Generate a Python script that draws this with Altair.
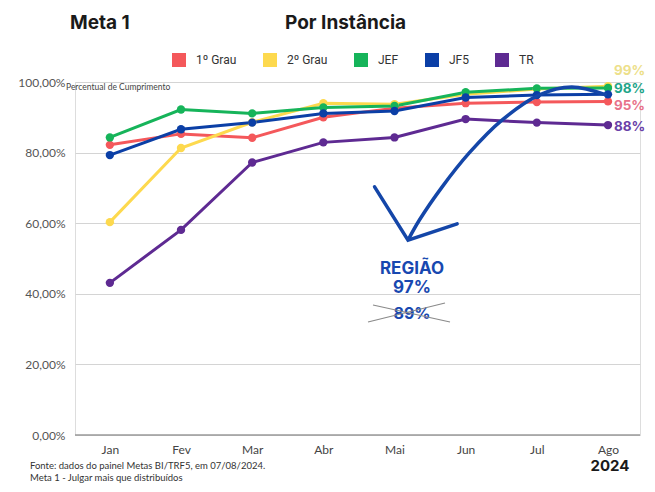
import json
import altair as alt
import pandas as pd

# ---------------- data ----------------
months = ["Jan", "Fev", "Mar", "Abr", "Mai", "Jun", "Jul", "Ago"]
series_names = ["1º Grau", "2º Grau", "JEF", "JF5", "TR"]
grau1 = [82.2, 85.3, 84.2, 90.0, 92.6, 94.0, 94.3, 94.5]
grau2 = [60.3, 81.3, 88.6, 94.0, 93.7, 96.5, 98.0, 98.8]
jef = [84.3, 92.2, 91.1, 92.8, 93.2, 97.1, 98.2, 98.3]
jf5 = [79.3, 86.6, 88.5, 91.1, 91.8, 95.6, 96.3, 96.5]
tr = [43.1, 58.1, 77.2, 82.9, 84.3, 89.5, 88.5, 87.8]
series_colors = ["#F4585B", "#FDD94E", "#16B45A", "#0B3FA6", "#5E2A92"]

end_labels = ["99%", "98%", "95%", "88%"]
end_values = [98.8, 98.3, 94.5, 87.8]
end_colors = ["#EDE08A", "#1FA58A", "#E8728A", "#6A3FA8"]
end_dy = [-15, 1, 5, 2]

# hand-drawn arrow (month index, percent)
arc_x = [4.19, 4.35, 4.67, 5.05, 5.51, 6.03, 6.49, 6.98]
arc_y = [55.2, 60.9, 70.3, 79.9, 89.2, 96.3, 98.6, 96.3]
head_x = [3.72, 4.19, 4.88]
head_y = [70.3, 55.2, 59.8]

y_ticks = [0, 20, 40, 60, 80, 100]

# ---------------- tables ----------------
rows = []
for name, vals in zip(series_names, [grau1, grau2, jef, jf5, tr]):
    for i, v in enumerate(vals):
        rows.append({"idx": i, "serie": name, "value": v})
df = pd.DataFrame(rows)

arc_df = pd.DataFrame({"x": arc_x, "y": arc_y, "o": list(range(len(arc_x)))})
head_df = pd.DataFrame({"x": head_x, "y": head_y, "o": list(range(len(head_x)))})

W, H = 565, 353
xscale = alt.Scale(domain=[-0.49, 7.45], nice=False, zero=False)
yscale = alt.Scale(domain=[0, 100], nice=False)

month_expr = json.dumps(months) + "[datum.value]"
base_font = "Lato"

order_map = {"2º Grau": 0, "1º Grau": 1, "JEF": 2, "JF5": 3, "TR": 4}
df["draw"] = df["serie"].map(order_map)

lines = alt.Chart(df).mark_line(
    strokeWidth=3,
    point=alt.OverlayMarkDef(filled=True, size=70, opacity=1),
).encode(
    x=alt.X("idx:Q", scale=xscale,
            axis=alt.Axis(values=list(range(len(months))), labelExpr=month_expr,
                          title=None, grid=False, domain=False, ticks=False,
                          labelFontSize=12, labelColor="#444", labelPadding=9,
                          labelFont=base_font)),
    y=alt.Y("value:Q", scale=yscale,
            axis=alt.Axis(values=y_ticks, title=None, domain=False, ticks=False,
                          labelExpr="replace(format(datum.value, '.2f'), '.', ',') + '%'",
                          labelFontSize=12, labelColor="#555", labelPadding=10,
                          labelFont=base_font, gridColor="#d4d4d4", gridWidth=1)),
    color=alt.Color("serie:N", scale=alt.Scale(domain=series_names, range=series_colors),
                    sort=series_names,
                    legend=alt.Legend(orient="none", legendX=97, legendY=-29,
                                      direction="horizontal", title=None,
                                      symbolType="square", symbolSize=196,
                                      symbolStrokeWidth=0, symbolOpacity=1,
                                      labelFontSize=12, labelColor="#333",
                                      labelFont="Roboto", labelOffset=10,
                                      columnPadding=26)),
    order=alt.Order("draw:Q"),
    detail="serie:N",
)

zero_rule = alt.Chart(pd.DataFrame({"y": [0]})).mark_rule(color="#9a9a9a", strokeWidth=1.5).encode(
    y=alt.Y("y:Q", scale=yscale)
)

arc = alt.Chart(arc_df).mark_line(color="#1446A8", strokeWidth=3.5, interpolate="catmull-rom").encode(
    x=alt.X("x:Q", scale=xscale), y=alt.Y("y:Q", scale=yscale), order="o:Q"
)
head = alt.Chart(head_df).mark_line(color="#1446A8", strokeWidth=3.5, strokeCap="round").encode(
    x=alt.X("x:Q", scale=xscale), y=alt.Y("y:Q", scale=yscale), order="o:Q"
)

end_layers = []
for lab, val, col, dy in zip(end_labels, end_values, end_colors, end_dy):
    end_layers.append(
        alt.Chart(pd.DataFrame({"idx": [len(months) - 1], "value": [val], "t": [lab]})).mark_text(
            align="left", baseline="middle", dx=6, dy=dy, fontSize=13.5, fontWeight="bold",
            font="Inter", color=col
        ).encode(x=alt.X("idx:Q", scale=xscale), y=alt.Y("value:Q", scale=yscale), text="t:N")
    )

def label(text, x, y, size, color="#222", weight="normal", font=base_font, align="left"):
    return alt.Chart(pd.DataFrame({"t": [text]})).mark_text(
        align=align, baseline="alphabetic", fontSize=size, fontWeight=weight, font=font, color=color
    ).encode(x=alt.value(x), y=alt.value(y), text="t:N")

texts = [
    label("Meta 1", -5, -53, 19, "#1a1a1a", "bold", "Inter"),
    label("Por Instância", 210, -53, 19, "#1a1a1a", "bold", "Inter"),
    label("Percentual de Cumprimento", -9, 8, 8.5, "#444"),
    label("REGIÃO", 337, 192, 17, "#1848B0", "bold", "Inter", "center"),
    label("97%", 337, 211, 17, "#1848B0", "bold", "Inter", "center"),
    label("89%", 337, 237, 16, "#1848B0", "bold", "Inter", "center"),
    label("2024", 535, 389, 15, "#1a1a1a", "bold", "Inter", "center"),
    label("Fonte: dados  do painel Metas BI/TRF5, em 07/08/2024.", -45, 387, 9.5, "#333"),
    label("Meta 1 - Julgar mais que distribuídos", -45, 399, 9.5, "#333"),
]

strike = [
    alt.Chart(pd.DataFrame({"a": [0]})).mark_rule(color="#8a8a8a", strokeWidth=1.2).encode(
        x=alt.value(293), y=alt.value(240), x2=alt.value(370), y2=alt.value(221)),
    alt.Chart(pd.DataFrame({"a": [0]})).mark_rule(color="#8a8a8a", strokeWidth=1.2).encode(
        x=alt.value(298), y=alt.value(223), x2=alt.value(375), y2=alt.value(240)),
]

chart = alt.layer(
    zero_rule, lines, arc, head, *end_layers, *texts, *strike
).properties(
    width=W, height=H,
    autosize=alt.AutoSizeParams(type="none"),
    padding={"left": 67, "top": 74, "right": 7, "bottom": 49},
).configure_view(stroke=None).configure(background="white")

chart.save("out.html", embed_options={"renderer": "svg", "actions": False})
